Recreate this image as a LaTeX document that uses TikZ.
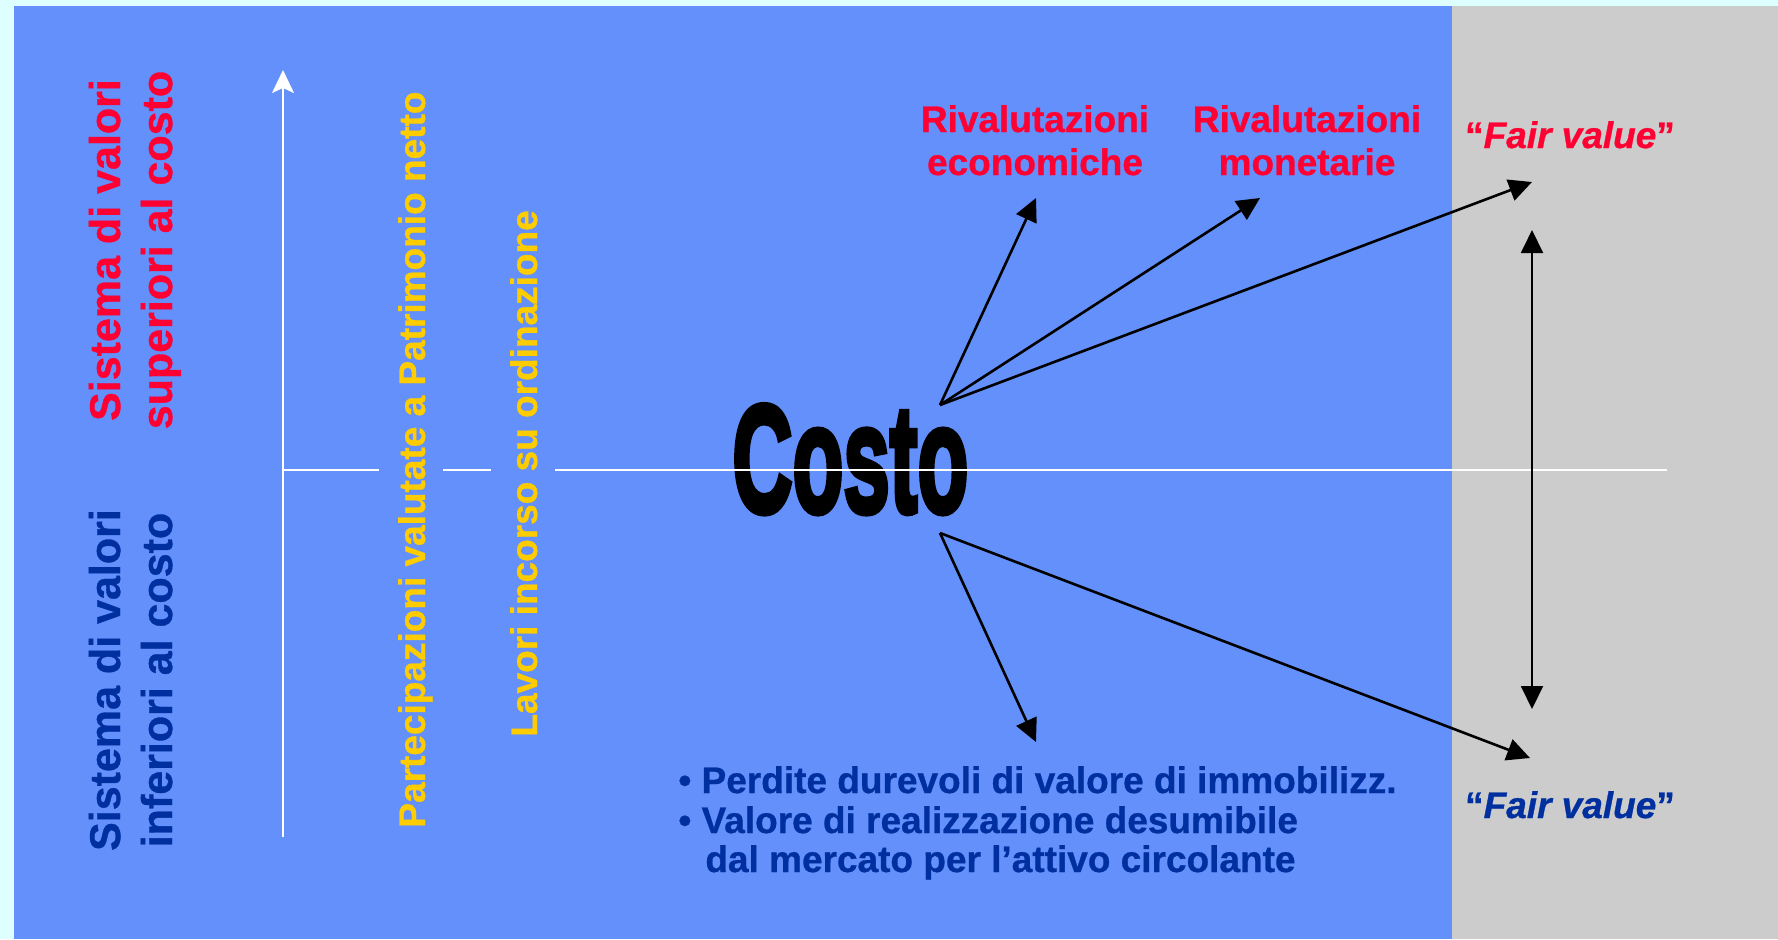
\documentclass[tikz,border=0pt]{standalone}
\usepackage{fontspec}
\setmainfont{Liberation Sans}[BoldFeatures={FakeBold=0.8},BoldItalicFeatures={FakeBold=0.8}]
\newfontfamily\costofont[FakeBold=4]{Liberation Sans Bold}
\usetikzlibrary{arrows.meta}
\definecolor{bgcyan}{HTML}{DDFFFF}
\definecolor{panelblue}{HTML}{6390FA}
\definecolor{panelgray}{HTML}{CCCCCC}
\definecolor{txtred}{HTML}{FF0033}
\definecolor{txtblue}{HTML}{0030A0}
\definecolor{txtyellow}{HTML}{FFCC00}
\tikzset{
  biglbl/.style={inner sep=0pt, rotate=90, anchor=base, font=\fontsize{21.5pt}{26pt}\selectfont\bfseries},
  vlbl/.style={inner sep=0pt, rotate=90, anchor=base west, text=txtyellow, font=\fontsize{18.5pt}{22pt}\selectfont\bfseries},
  lbl/.style={inner sep=0pt, font=\fontsize{18.5pt}{22pt}\selectfont\bfseries},
  blkarrow/.style={draw=black, line width=1.3pt, -{Triangle[length=11.5pt,width=11pt]}},
  dblarrow/.style={draw=black, line width=1pt, {Triangle[length=11.5pt,width=11pt]}-{Triangle[length=11.5pt,width=11pt]}},
  axisline/.style={draw=white, line width=1pt}
}
\begin{document}
\begin{tikzpicture}[x=0.5pt,y=-0.5pt]
\useasboundingbox (0,0) rectangle (1778,939);
\fill[bgcyan] (0,0) rectangle (1778,939);
\fill[panelblue] (14,6) rectangle (1452,939);
\fill[panelgray] (1452,6) rectangle (1778,939);

% left labels
\node[biglbl, text=txtred] (sup1) at (120,250) {Sistema di valori};
\node[biglbl, text=txtred] (sup2) at (172,250) {superiori al costo};
\node[biglbl, text=txtblue] (inf1) at (120,680) {Sistema di valori};
\node[biglbl, text=txtblue] (inf2) at (172,680) {inferiori al costo};

% yellow labels
\node[vlbl] (part) at (425,828) {Partecipazioni valutate a Patrimonio netto};
\node[vlbl] (lav) at (537,737) {Lavori incorso su ordinazione};

% Costo
\node[inner sep=0pt, anchor=base west] (costo) at (732,512) {\resizebox{118pt}{53.5pt}{\costofont Costo}};

% axes
\coordinate (vbot) at (283,837);
\coordinate (vtop) at (283,70);
\draw[white, line width=1pt, -{Stealth[length=11.5pt,width=11pt,inset=2.5pt]}] (vbot) -- (vtop);
\coordinate (h0) at (283,470);
\coordinate (h1) at (379,470);
\coordinate (h2) at (443,470);
\coordinate (h3) at (491,470);
\coordinate (h4) at (555,470);
\coordinate (h5) at (1667,470);
\draw[axisline] (h0) -- (h1);
\draw[axisline] (h2) -- (h3);
\draw[axisline] (h4) -- (h5);

% top labels
\node[lbl, text=txtred, anchor=base] (re1) at (1035,132) {Rivalutazioni};
\node[lbl, text=txtred, anchor=base] (re2) at (1035,175) {economiche};
\node[lbl, text=txtred, anchor=base] (rm1) at (1307,132) {Rivalutazioni};
\node[lbl, text=txtred, anchor=base] (rm2) at (1307,175) {monetarie};
\node[lbl, text=txtred, anchor=base] (fvtop) at (1570,148) {“\textit{Fair value}”};
\node[lbl, text=txtblue, anchor=base] (fvbot) at (1570,818) {“\textit{Fair value}”};

% bottom bullets
\node[lbl, text=txtblue, anchor=base west] (b1) at (678,793) {• Perdite durevoli di valore di immobilizz.};
\node[lbl, text=txtblue, anchor=base west] (b2) at (678,833) {• Valore di realizzazione desumibile};
\node[lbl, text=txtblue, anchor=base west] (b3) at (705,872) {dal mercato per l’attivo circolante};

% arrows
\coordinate (a1) at (940,405);
\coordinate (a2) at (940,533);
\coordinate (t1) at (1036,198);
\coordinate (t2) at (1260,198);
\coordinate (t3) at (1532,182);
\coordinate (t4) at (1036,742);
\coordinate (t5) at (1530,758);
\coordinate (d1) at (1532,230);
\coordinate (d2) at (1532,709);
\draw[blkarrow] (a1) -- (t1);
\draw[blkarrow] (a1) -- (t2);
\draw[blkarrow] (a1) -- (t3);
\draw[blkarrow] (a2) -- (t4);
\draw[blkarrow] (a2) -- (t5);
\draw[dblarrow] (d1) -- (d2);
\end{tikzpicture}
\end{document}
